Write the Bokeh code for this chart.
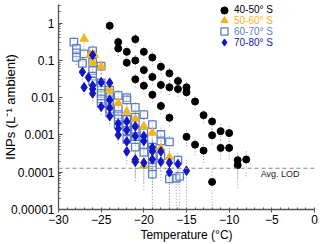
import numpy as np
from bokeh.plotting import figure
from bokeh.models import (Range1d, FixedTicker, CustomJSTickFormatter, Span, Label,
                          Legend, LegendItem)
from bokeh.embed import file_html
from bokeh.resources import INLINE

# ---------------- data ----------------
t40 = [-24, -23, -23, -22, -22, -21, -21, -21, -20, -20, -20, -19, -19, -19, -18, -18, -18,
       -17, -17, -17, -16, -16, -15, -15, -15, -14, -14, -13, -13, -12, -12, -12, -11, -11,
       -10, -10, -9, -9, -8]
v40 = [0.85, 0.31, 0.21, 0.17, 0.087, 0.37, 0.10, 0.031, 0.17, 0.055, 0.021, 0.12, 0.036, 0.012,
       0.068, 0.022, 0.006, 0.045, 0.019, 0.0029, 0.028, 0.017, 0.019, 0.014, 0.00089, 0.0079,
       0.00055, 0.0034, 0.00038, 0.0023, 0.00098, 0.000055, 0.00126, 0.00045, 0.00112, 0.00045,
       0.00021, 0.000155, 0.00022]

t50 = [-27, -26.3, -25.8, -26, -25, -24, -23, -22, -21, -21, -20, -20, -19, -18, -17]
v50 = [0.38, 0.14, 0.14, 0.09, 0.068, 0.016, 0.0072, 0.0042, 0.0027, 0.00021, 0.0017, 0.00015,
       0.00115, 0.00045, 0.00025]

t60 = [-28.2, -27.9, -27.9, -27.9, -27, -27.2, -26, -26, -26, -26, -26, -25, -25, -25, -25, -25,
       -25, -24, -24, -24, -24, -24, -24, -23, -23, -23, -23, -23, -22, -22, -22, -22, -22, -22,
       -21, -21, -21, -21, -21, -21, -20, -20, -20, -20, -20, -19, -19, -19, -19, -19, -19, -18,
       -18, -18, -17, -17, -16, -16.2, -15.8]
v60 = [0.31, 0.21, 0.16, 0.12, 0.15, 0.083, 0.18, 0.089, 0.053, 0.038, 0.028, 0.07, 0.025, 0.018,
       0.013, 0.0093, 0.007, 0.016, 0.012, 0.0087, 0.0065, 0.005, 0.0039, 0.0115, 0.005, 0.0035,
       0.0027, 0.0019, 0.010, 0.0087, 0.0026, 0.0018, 0.0013, 0.00076, 0.0055, 0.003, 0.0019,
       0.0013, 0.0009, 0.00047, 0.0035, 0.00115, 0.0008, 0.00055, 0.00034, 0.0019, 0.00047,
       0.00027, 0.00018, 0.000138, 0.000089, 0.00103, 0.00069, 0.00027, 0.00065, 0.000066,
       0.00021, 0.000069, 0.000077]

t70 = [-27.2, -27, -26.5, -26, -26, -26, -26, -25, -25, -24, -24, -24, -24, -23, -23, -23, -22,
       -22, -22, -22, -21, -21, -21, -21, -20, -20, -20, -19, -19, -19, -18, -18, -17, -17,
       -16, -15]
v70 = [0.049, 0.019, 0.035, 0.14, 0.021, 0.017, 0.013, 0.026, 0.0057, 0.025, 0.0087, 0.0053,
       0.0032, 0.002, 0.00145, 0.001, 0.0023, 0.00135, 0.00067, 0.00036, 0.0017, 0.00093,
       0.00022, 0.00019, 0.00093, 0.00069, 0.00018, 0.00046, 0.00037, 0.00022, 0.00036, 0.00019,
       0.00018, 0.0001, 0.000165, 0.00011]

lod = 1.28e-4
x_ticks = [-30, -25, -20, -15, -10, -5, 0]
y_ticks = [1e-5, 1e-4, 1e-3, 1e-2, 1e-1, 1]

labels = ["40-50° S", "50-60° S", "60-70° S", "70-80° S"]
colors = ["#000000", "#F2B51C", "#5B7FC6", "#1414C8"]

FONT = "Liberation Sans"

# ---------------- figure ----------------
p = figure(width=320, height=244, x_range=Range1d(-30, 0), y_range=Range1d(1e-5, 10 ** 0.5),
           y_axis_type="log", output_backend="svg", toolbar_location=None,
           min_border_left=57, min_border_right=6, min_border_top=4, min_border_bottom=33)
p.grid.visible = False
p.outline_line_color = None
p.background_fill_color = "white"

xa = p.xaxis[0]
ya = p.yaxis[0]
xa.ticker = FixedTicker(ticks=x_ticks, minor_ticks=list(range(-30, 1)))
ya.ticker = FixedTicker(ticks=y_ticks,
                        minor_ticks=[k * 10.0 ** e for e in range(-5, 1) for k in range(2, 10)])
ya.formatter = CustomJSTickFormatter(code="""
    if (tick >= 1) { return tick.toFixed(0); }
    var n = Math.round(-Math.log10(tick));
    return tick.toFixed(n);
""")
for ax in (xa, ya):
    ax.axis_line_color = "#555555"
    ax.axis_line_width = 1.3
    ax.major_tick_line_color = "#555555"
    ax.minor_tick_line_color = "#555555"
    ax.major_label_text_font = FONT
    ax.major_label_text_font_size = "12px"
    ax.major_label_text_color = "#000000"
    ax.axis_label_text_font = FONT
    ax.axis_label_text_font_style = "normal"
    ax.axis_label_text_color = "#000000"

xa.major_tick_in = 0
xa.major_tick_out = 3
xa.minor_tick_in = 2
xa.minor_tick_out = 0
xa.major_label_standoff = 2
xa.axis_label = "Temperature (°C)"
xa.axis_label_text_font_size = "12px"
xa.axis_label_standoff = 1

ya.major_tick_in = 4
ya.major_tick_out = 0
ya.minor_tick_in = 2
ya.minor_tick_out = 0
ya.major_label_standoff = 4
ya.axis_label = "INPs (L⁻¹ ambient)"
ya.axis_label_text_font_size = "13px"
ya.axis_label_standoff = -10

# ---------------- error bars ----------------
all_t = t40 + t50 + t60 + t70
all_v = np.array(v40 + v50 + v60 + v70)
hi = all_v * 1.5 + 0.6e-4
lo = np.maximum(all_v / 1.6 - 0.6e-4, 5e-6)
p.segment(x0=all_t, y0=lo, x1=all_t, y1=hi, line_color="#9a9a9a", line_width=1,
          line_dash="1 2")

# ---------------- LOD ----------------
p.add_layout(Span(location=lod, dimension="width", line_color="#888888", line_width=1.2,
                  line_dash="4 3"))
p.add_layout(Label(x=-6.3, y=8.9e-5, text="Avg. LOD", text_font=FONT, text_font_size="9px",
                   text_baseline="middle", text_align="left", text_color="#222222"))

# ---------------- markers ----------------
r40 = p.scatter(t40, v40, marker="circle", size=7, fill_color=colors[0], line_color=colors[0])
r60 = p.scatter(t60, v60, marker="square", size=7.5, fill_color="white", fill_alpha=0.35,
                line_color=colors[2], line_width=1.3)
r50 = p.scatter(t50, v50, marker="triangle", size=8.5, fill_color=colors[1], line_color=colors[1])
r70 = p.scatter(t70, v70, marker="diamond", size=9.5, fill_color=colors[3], line_color=colors[3])

# ---------------- legend (one per row, coloured text) ----------------
rows_y = [190.3, 179.7, 168.7, 158]
for r, lab, col, yy in zip([r40, r50, r60, r70], labels, colors, rows_y):
    leg = Legend(items=[LegendItem(label=lab, renderers=[r])], location=(157, yy),
                 border_line_color=None, background_fill_alpha=0, padding=0, margin=0,
                 spacing=0, glyph_width=18, glyph_height=18, label_standoff=1,
                 label_height=18, label_text_color=col, label_text_font=FONT,
                 label_text_font_size="10px")
    p.add_layout(leg)

open("out.html", "w").write(file_html(p, INLINE))
